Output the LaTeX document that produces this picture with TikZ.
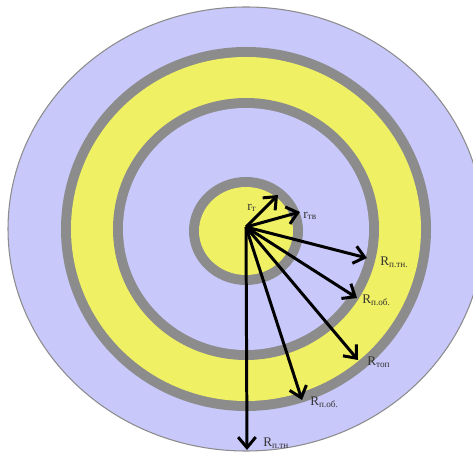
\documentclass[tikz,border=0pt]{standalone}
\usepackage{fontspec}
\setmainfont{Liberation Serif}
\usetikzlibrary{arrows.meta,positioning}
\definecolor{lavender}{RGB}{200,200,250}
\definecolor{ringgray}{RGB}{140,140,140}
\definecolor{coreyellow}{RGB}{240,240,100}

\begin{document}
\begin{tikzpicture}[x=0.02cm, y=-0.02cm,
    radius/.style={-{Straight Barb[length=6pt,width=10pt]}, line width=1.7pt},
    lbl/.style={font=\fontsize{7.5}{8}\selectfont, text=black!80, inner sep=0pt}]
    \useasboundingbox (0,0) rectangle (473,455);
    \begin{scope}
        \clip (0,0) rectangle (473,455);
        % layers
        \filldraw[fill=lavender, draw=ringgray, line width=0.6pt] (246,229) ellipse [x radius=238, y radius=222];
        \fill[ringgray] (246,229) ellipse [x radius=185, y radius=182];
        \fill[coreyellow] (246,229) ellipse [x radius=175, y radius=172];
        \fill[ringgray] (246,229) ellipse [x radius=133, y radius=131];
        \fill[lavender] (246,229) ellipse [x radius=123, y radius=121];
        \fill[ringgray] (246,231) ellipse [x radius=57, y radius=54];
        \fill[coreyellow] (246,231) ellipse [x radius=47, y radius=44];
    \end{scope}

    \coordinate (o) at (246,227);
    \coordinate (rt) at (278,195);
    \coordinate (rtv) at (300,212);
    \coordinate (Rptn) at (367,258);
    \coordinate (Rpob) at (357,298);
    \coordinate (Rtop) at (358,360);
    \coordinate (Rpob2) at (302,400);
    \coordinate (Rptn2) at (247,450);

    \foreach \tip in {rt,rtv,Rptn,Rpob,Rtop,Rpob2,Rptn2}
        \draw[radius] (o) -- (\tip);

    \node[lbl] (lrt) at (252,208) {r\textsubscript{т}};
    \node[lbl, anchor=west] (lrtv) at (303,216) {r\textsubscript{тв}};
    \node[lbl, anchor=west] (lRptn) at (380,262) {R\textsubscript{п.тн.}};
    \node[lbl, anchor=west] (lRpob) at (362,300) {R\textsubscript{п.об.}};
    \node[lbl, anchor=west] (lRtop) at (367,362) {R\textsubscript{топ}};
    \node[lbl, anchor=west] (lRpob2) at (310,402) {R\textsubscript{п.об.}};
    \node[lbl, anchor=west] (lRptn2) at (263,443) {R\textsubscript{п.тн}};
\end{tikzpicture}
\end{document}
